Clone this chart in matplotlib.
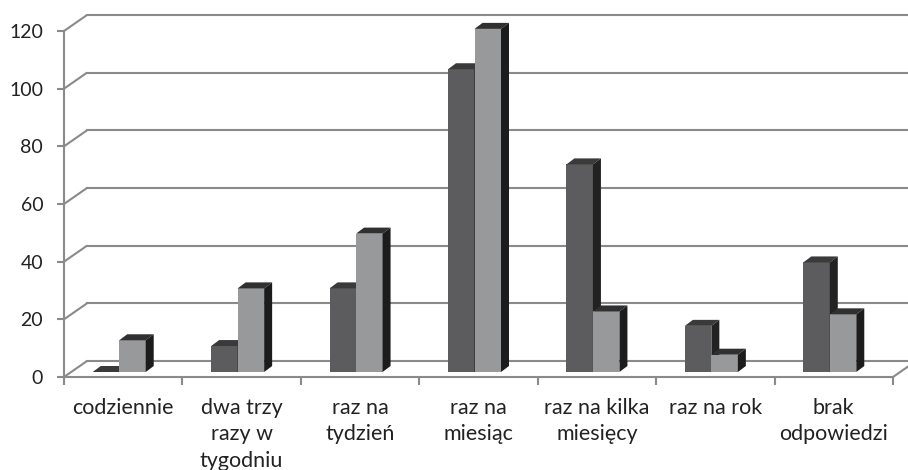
import matplotlib
matplotlib.use("Agg")
import matplotlib.pyplot as plt
from matplotlib.patches import Polygon

plt.rcParams['font.family'] = ['Lato', 'DejaVu Sans']

categories = ["codziennie", "dwa trzy\nrazy w\ntygodniu", "raz na\ntydzień",
              "raz na\nmiesiąc", "raz na kilka\nmiesięcy", "raz na rok",
              "brak\nodpowiedzi"]
series_dark = [0, 9, 29, 105, 72, 16, 38]
series_light = [11, 29, 48, 119, 21, 6, 20]
y_ticks = [0, 20, 40, 60, 80, 100, 120]

W, H = 908, 470
fig = plt.figure(figsize=(W / 100, H / 100), dpi=100)
ax_l, ax_r, ax_b, ax_t = 64, 893, 377, 31
ax = fig.add_axes([ax_l / W, (H - ax_b) / H, (ax_r - ax_l) / W, (ax_b - ax_t) / H])
n = len(categories)
ax.set_xlim(-0.5, n - 0.5)
ax.set_ylim(0, 120)

# pixel -> data conversion factors
px_x = (n) / (ax_r - ax_l)
px_y = 120 / (ax_b - ax_t)

grid_c = "#8a8a8a"
text_c = "#222222"
# back wall offset (perspective depth)
wdx, wdy = 23 * px_x, 16 * px_y
x0 = -0.5
x_far = x0 + wdx + 1000 * px_x
for t in y_ticks:
    ax.plot([x0, x0 + wdx], [t, t + wdy], color=grid_c, lw=1.5,
            clip_on=False, zorder=1, solid_capstyle="butt")
    ax.plot([x0 + wdx, x_far], [t + wdy, t + wdy], color=grid_c, lw=1.5,
            clip_on=False, zorder=1)
# right floor edge
ax.plot([n - 0.5, n - 0.5 + wdx], [0, wdy], color=grid_c, lw=1.5,
        clip_on=False, zorder=1)

# bars with a small 3D look
bw = 26.5 * px_x
bdx, bdy = 8 * px_x, 6 * px_y
base = 5 * px_y
off_left = 30.5 * px_x
styles = [("#5c5c5e", "#3a3a3a", "#222222"),
          ("#98999b", "#303030", "#1c1c1c")]
for i in range(n):
    for k, vals in enumerate([series_dark, series_light]):
        front, top_c, side_c = styles[k]
        left = i - off_left + k * bw
        v = vals[i]
        z = 3 + 2 * i + k * 0.5
        ax.bar(left, v, width=bw, bottom=base, align="edge", color=front,
               linewidth=0, zorder=z, clip_on=False)
        top = base + v
        ax.add_patch(Polygon([(left, top), (left + bw, top),
                              (left + bw + bdx, top + bdy), (left + bdx, top + bdy)],
                             closed=True, facecolor=top_c, edgecolor="none",
                             zorder=z, clip_on=False))
        ax.add_patch(Polygon([(left + bw, base), (left + bw + bdx, base + bdy),
                              (left + bw + bdx, top + bdy), (left + bw, top)],
                             closed=True, facecolor=side_c, edgecolor="none",
                             zorder=z, clip_on=False))

for s in ["top", "right"]:
    ax.spines[s].set_visible(False)
for s in ["left", "bottom"]:
    ax.spines[s].set_color(grid_c)
    ax.spines[s].set_linewidth(1.5)

ax.set_yticks(y_ticks)
ax.set_yticklabels([str(t) for t in y_ticks])
ax.tick_params(axis="y", length=5, width=1.5, color=grid_c, pad=10,
               labelsize=14, labelcolor=text_c)
ax.set_xticks(range(n))
ax.set_xticklabels(categories, linespacing=1.4)
ax.set_xticks([i - 0.5 for i in range(n + 1)], minor=True)
ax.tick_params(axis="x", which="major", length=0, pad=15, labelsize=15.5,
               labelcolor=text_c)
ax.tick_params(axis="x", which="minor", length=6, width=1.5, color=grid_c)
for lab in ax.get_xticklabels():
    lab.set_verticalalignment("top")
ax.patch.set_visible(False)

fig.savefig("out.png", dpi=100, facecolor="white")
